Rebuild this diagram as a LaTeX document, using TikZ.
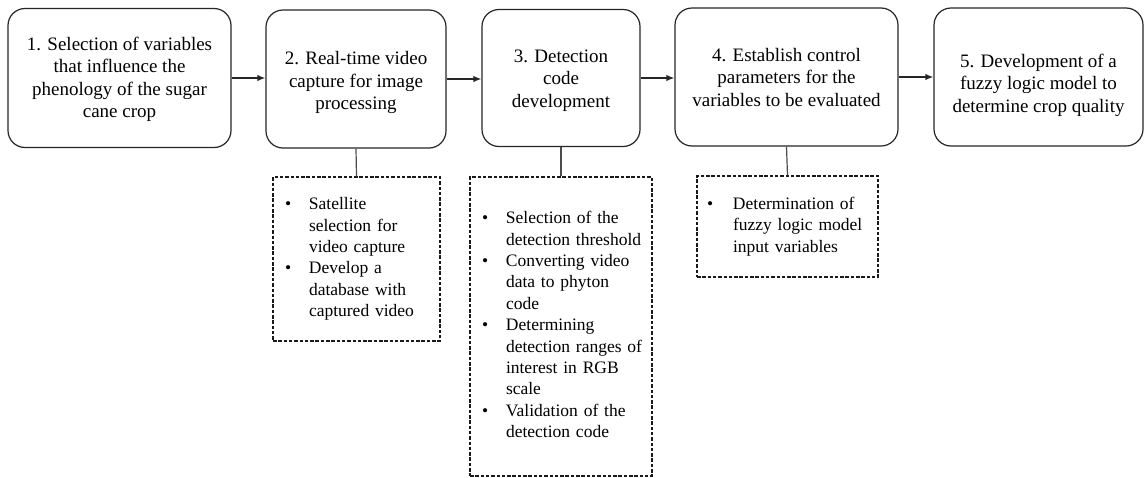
\documentclass[tikz,border=0pt]{standalone}
\usepackage{fontspec}
\setmainfont{Liberation Serif}
\usetikzlibrary{arrows.meta}
\begin{document}
\begin{tikzpicture}[x=1pt,y=-1pt,
  stepbox/.style={draw=black!85, line width=1.2pt, rounded corners=17pt, align=center,
    inner sep=0pt, font=\fontsize{19}{22.5}\selectfont},
  listbox/.style={draw=black!90, line width=1.2pt, dash pattern=on 3.5pt off 1.8pt,
    inner ysep=0pt, inner xsep=12pt, align=left, font=\fontsize{17.5}{21.4}\selectfont},
  flow/.style={-{Latex[length=8pt,width=6.5pt]}, line width=1.5pt, draw=black!85},
  link/.style={line width=1.2pt, draw=black!70}]
\useasboundingbox (0,0) rectangle (1146,477);
\fill[white] (0,0) rectangle (1146,477);
\newcommand{\blt}{\textbullet}
\newcommand{\lbl}[2]{\raisebox{#1}[0pt][0pt]{\begin{tabular}{@{}c@{}}#2\end{tabular}}}
\node[stepbox, minimum width=223pt, minimum height=139pt] (b1) at (119.5,78)
  {\lbl{-5.75pt}{1. Selection of variables\\that influence the\\phenology of the sugar\\cane crop}};
\node[stepbox, minimum width=180pt, minimum height=138pt] (b2) at (356,79)
  {\lbl{-8.25pt}{2. Real-time video\\capture for image\\processing}};
\node[stepbox, minimum width=158pt, minimum height=137pt] (b3) at (561,78)
  {\lbl{-6.75pt}{3. Detection\\code\\development}};
\node[stepbox, minimum width=223pt, minimum height=138pt] (b4) at (786.5,77)
  {\lbl{-6.75pt}{4. Establish control\\parameters for the\\variables to be evaluated}};
\node[stepbox, minimum width=209pt, minimum height=138pt] (b5) at (1038.5,77)
  {\lbl{-12.75pt}{5. Development of a\\fuzzy logic model to\\determine crop quality}};

\node[listbox, text width=143pt, minimum height=164pt] (d2) at (356.5,259)
  {\begin{tabular}{@{}p{24pt}@{}l@{}}
  \blt & Satellite\\ & selection for\\ & video capture\\
  \blt & Develop a\\ & database with\\ & captured video
  \end{tabular}};
\node[listbox, text width=158pt, minimum height=299pt] (d3) at (561,326.5)
  {\begin{tabular}{@{}p{24pt}@{}l@{}}
  \blt & Selection of the\\ & detection threshold\\
  \blt & Converting video\\ & data to phyton\\ & code\\
  \blt & Determining\\ & detection ranges of\\ & interest in RGB\\ & scale\\
  \blt & Validation of the\\ & detection code
  \end{tabular}};
\node[listbox, inner xsep=10pt, text width=161pt, minimum height=101pt] (d4) at (787.5,226.5)
  {\begin{tabular}{@{}p{26pt}@{}l@{}}
  \blt & Determination of\\ & fuzzy logic model\\ & input variables
  \end{tabular}};

\draw[flow] (b1.east) -- (b1.east -| b2.west);
\draw[flow] (b2.east) -- (b2.east -| b3.west);
\draw[flow] (b3.east) -- (b3.east -| b4.west);
\draw[flow] (b4.east) -- (b4.east -| b5.west);
\draw[link] (b2.south) -- (d2.north);
\draw[link] (b3.south) -- (d3.north);
\draw[link] (b4.south) -- (d4.north);
\end{tikzpicture}
\end{document}
